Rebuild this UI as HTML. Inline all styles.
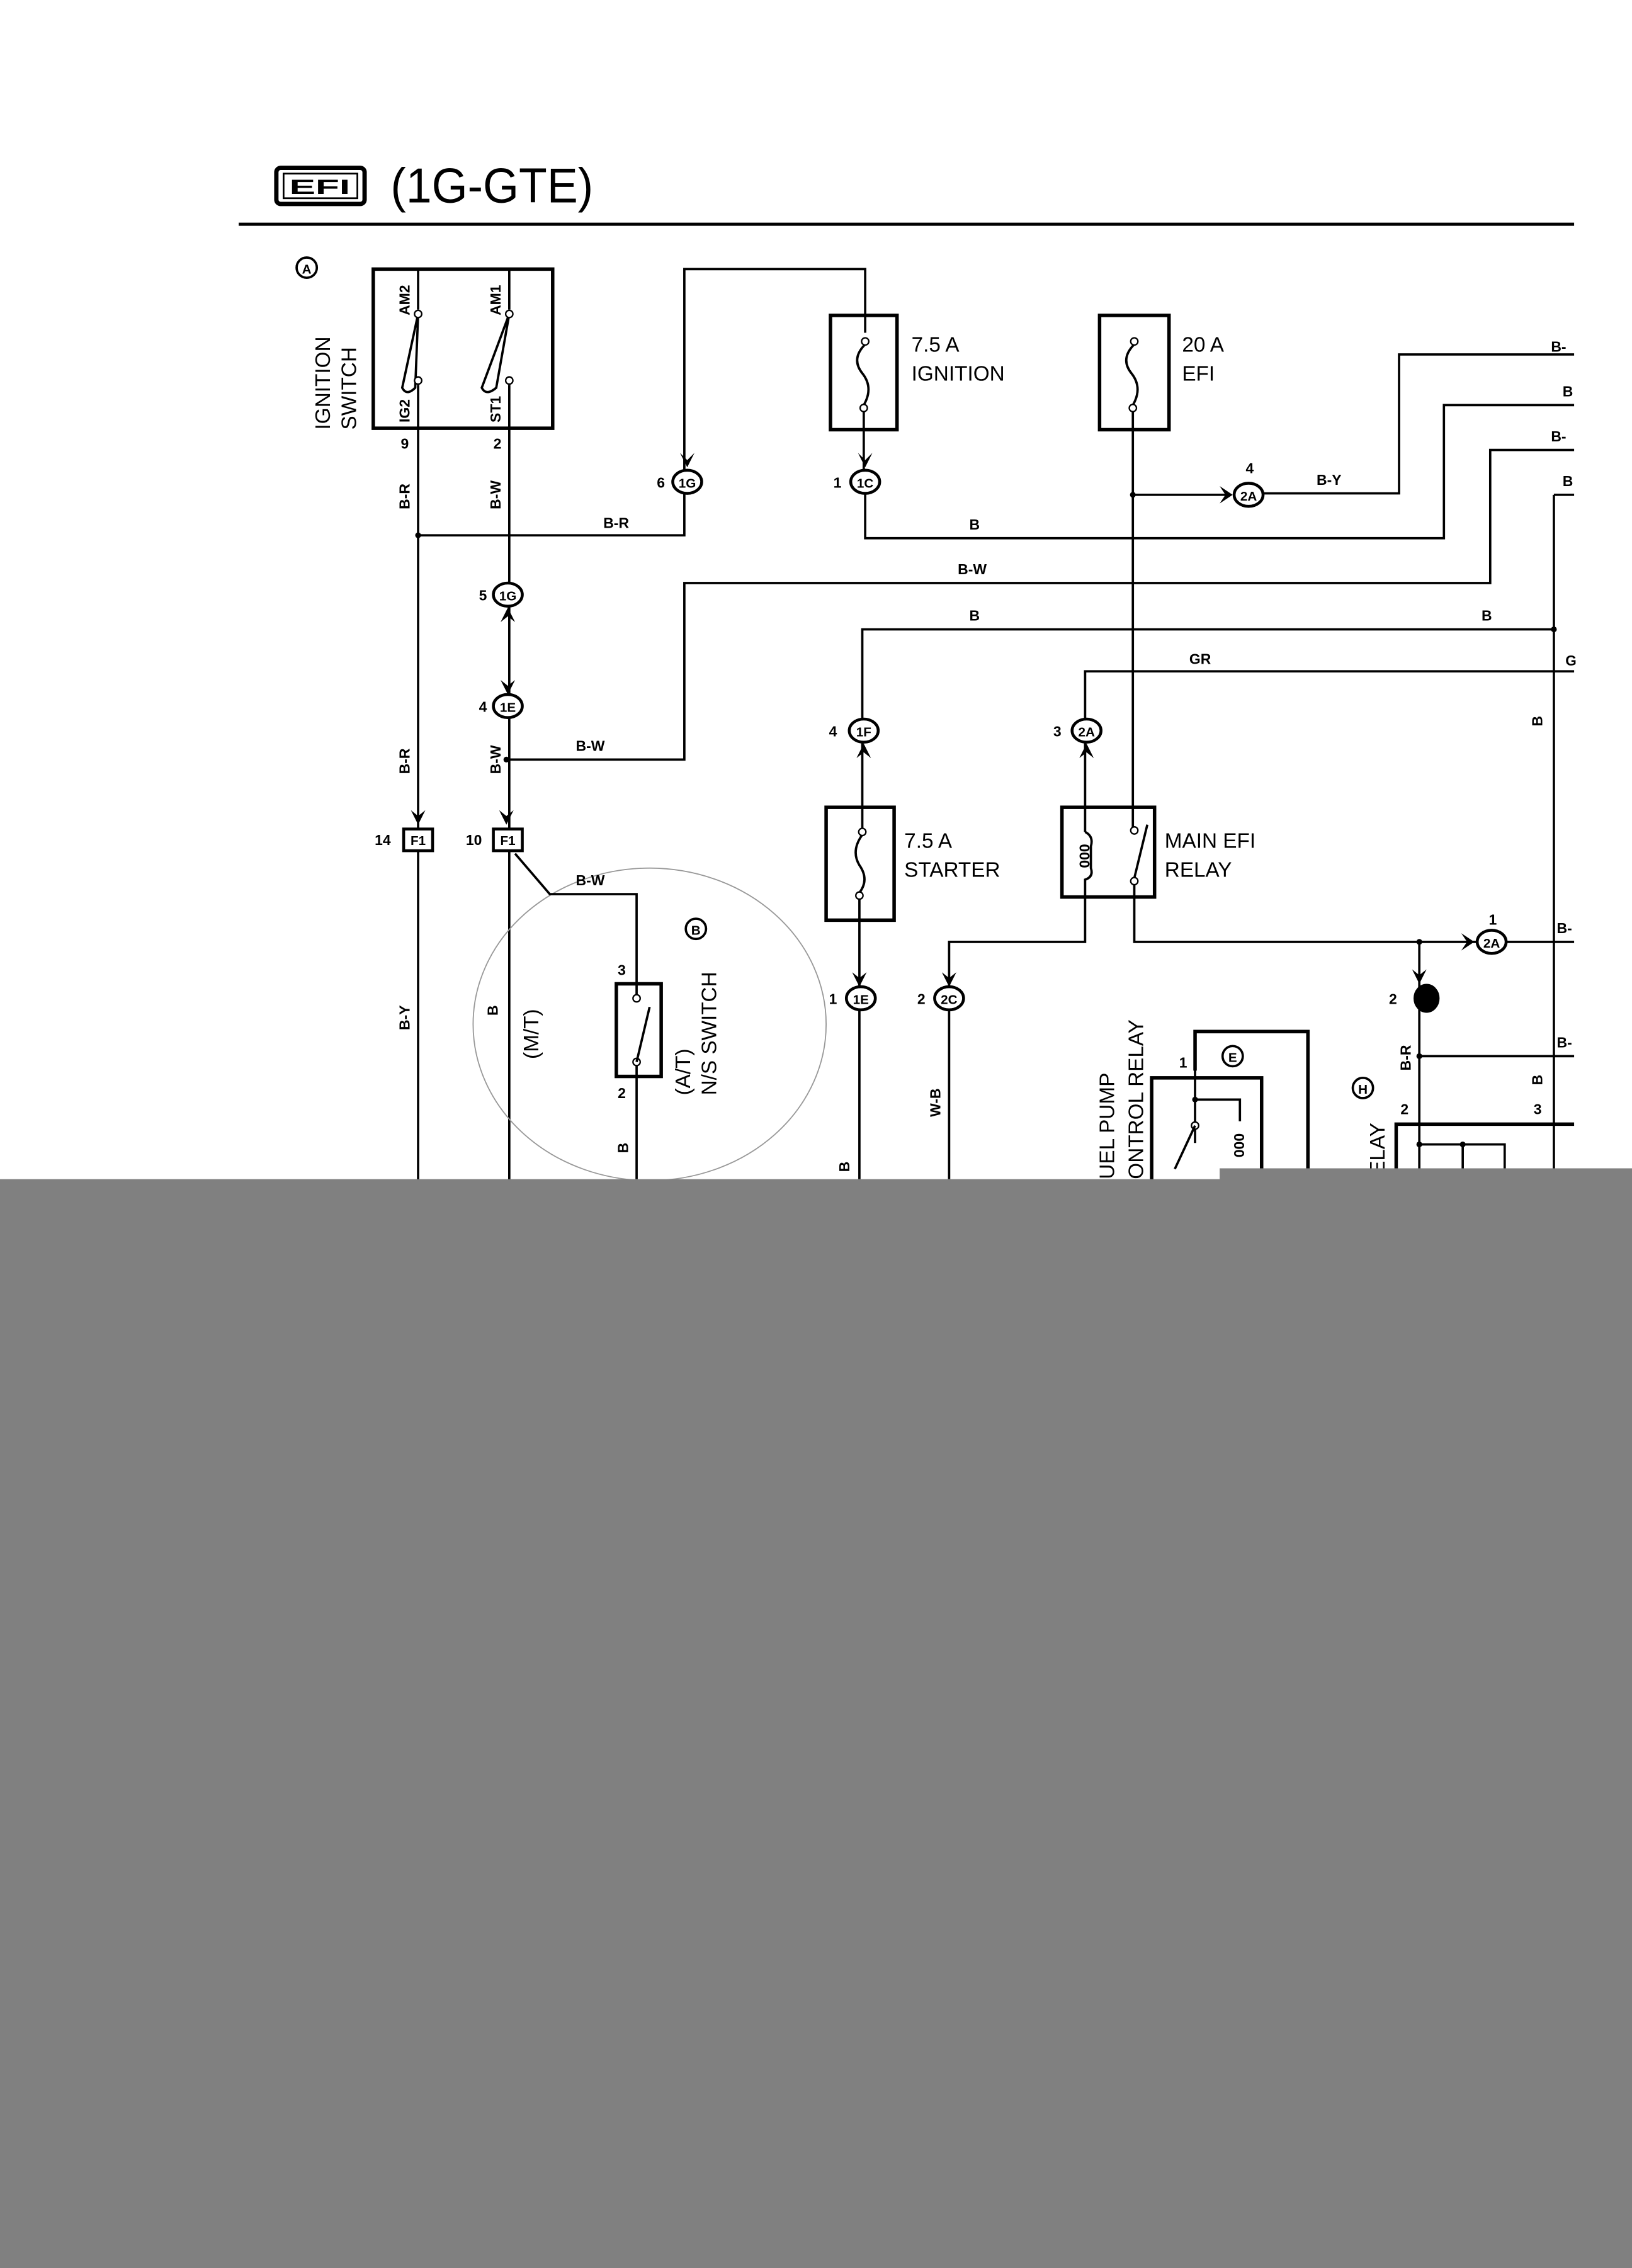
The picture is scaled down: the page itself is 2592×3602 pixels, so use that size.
<!DOCTYPE html>
<html><head><meta charset="utf-8"><style>
html,body{margin:0;padding:0;background:#fff}
svg{display:block}
.w{stroke:#000;stroke-width:1.6;fill:none}
.t{stroke:#000;stroke-width:2.4;fill:none}
.lb{font-family:"Liberation Sans",sans-serif;font-size:10px;font-weight:bold;fill:#000}
.tx{font-family:"Liberation Sans",sans-serif;font-size:14.5px;fill:#000}
.cn{font-family:"Liberation Sans",sans-serif;font-size:9px;font-weight:bold;fill:#000;text-anchor:middle}
</style></head><body>
<svg width="2592" height="3602" viewBox="0 0 1128 1567.6" preserveAspectRatio="none" xmlns="http://www.w3.org/2000/svg">
<rect x="0" y="0" width="1128" height="1568" fill="#fff"/>
<rect x="191" y="116" width="61" height="25" rx="3" fill="none" stroke="#000" stroke-width="3"/>
<rect x="196" y="120" width="51" height="17" fill="none" stroke="#000" stroke-width="1.2"/>
<text x="200" y="134" font-family="Liberation Sans" font-weight="bold" font-size="14" fill="#000" textLength="42" lengthAdjust="spacingAndGlyphs">EFI</text>
<text x="270" y="140" font-family="Liberation Sans" font-size="34" fill="#000" textLength="140" lengthAdjust="spacingAndGlyphs">(1G-GTE)</text>
<line x1="165" y1="155" x2="1088" y2="155" stroke="#000" stroke-width="2.2"/>

<circle cx="212" cy="185" r="7" class="w" stroke-width="1.2"/><text x="212" y="189" class="cn">A</text>
<rect x="258" y="186" width="124" height="110" class="t"/>
<text transform="translate(228,297) rotate(-90)" class="tx">IGNITION</text>
<text transform="translate(246,297) rotate(-90)" class="tx">SWITCH</text>
<path class="w" d="M289 186V214M352 186V214"/>
<path class="w" d="M289 217L278 268Q281 274 287 268Z M352 217L333 268Q336 274 343 268Z" stroke-width="1.4"/>
<circle cx="289" cy="217" r="2.5" fill="#fff" stroke="#000"/><circle cx="352" cy="217" r="2.5" fill="#fff" stroke="#000"/>
<circle cx="289" cy="263" r="2.5" fill="#fff" stroke="#000"/><circle cx="352" cy="263" r="2.5" fill="#fff" stroke="#000"/>
<text transform="translate(283,218) rotate(-90)" class="lb" font-size="9">AM2</text>
<text transform="translate(346,218) rotate(-90)" class="lb" font-size="9">AM1</text>
<text transform="translate(283,292) rotate(-90)" class="lb" font-size="9">IG2</text>
<text transform="translate(346,292) rotate(-90)" class="lb" font-size="9">ST1</text>
<text x="277" y="310" class="lb">9</text><text x="341" y="310" class="lb">2</text>
<path class="w" d="M289 266V1000M352 266V1000"/>
<text transform="translate(283,352) rotate(-90)" class="lb">B-R</text>
<text transform="translate(346,352) rotate(-90)" class="lb">B-W</text>
<circle cx="289" cy="370" r="2" fill="#000"/>
<path class="w" d="M289 370H473V186H598V230"/>
<text x="417" y="365" class="lb">B-R</text>
<ellipse cx="475" cy="333" rx="10" ry="8" fill="#fff" stroke="#000" stroke-width="2"/><text x="475" y="337" class="cn">1G</text><text x="454" y="337" class="lb">6</text>
<ellipse cx="598" cy="333" rx="10" ry="8" fill="#fff" stroke="#000" stroke-width="2"/><text x="598" y="337" class="cn">1C</text><text x="576" y="337" class="lb">1</text>
<path d="M470 313L475 323L480 313L475 318Z M593 313L598 323L603 313L598 318Z" fill="#000"/>
<rect x="574" y="218" width="46" height="79" class="t"/>
<path class="w" d="M598 238Q588 248 596 258Q604 268 597 280"/>
<circle cx="598" cy="236" r="2.5" fill="#fff" stroke="#000"/><circle cx="597" cy="282" r="2.5" fill="#fff" stroke="#000"/>
<path class="w" d="M597 284V325M598 341V372H998V280H1088"/>
<text x="630" y="243" class="tx">7.5 A</text><text x="630" y="263" class="tx">IGNITION</text>
<text x="670" y="366" class="lb">B</text>
<text x="1080" y="274" class="lb">B</text>
<rect x="760" y="218" width="48" height="79" class="t"/>
<path class="w" d="M784 238Q774 248 782 258Q790 268 783 280"/>
<circle cx="784" cy="236" r="2.5" fill="#fff" stroke="#000"/><circle cx="783" cy="282" r="2.5" fill="#fff" stroke="#000"/>
<text x="817" y="243" class="tx">20 A</text><text x="817" y="263" class="tx">EFI</text>
<path class="w" d="M783 284V572"/>
<circle cx="783" cy="342" r="2" fill="#000"/>
<path class="w" d="M783 342H848M872 341H967V245H1088"/>
<path d="M843 336L852 342L843 348L847 342Z" fill="#000"/>
<ellipse cx="863" cy="342" rx="10" ry="8" fill="#fff" stroke="#000" stroke-width="2"/><text x="863" y="346" class="cn">2A</text><text x="861" y="327" class="lb">4</text>
<text x="910" y="335" class="lb">B-Y</text>
<text x="1072" y="243" class="lb">B-</text>
<path class="w" d="M350 525H473V403H1030V311H1088"/>
<circle cx="350" cy="525" r="2" fill="#000"/>
<text x="662" y="397" class="lb">B-W</text><text x="398" y="519" class="lb">B-W</text>
<text x="1072" y="305" class="lb">B-</text>
<path class="w" d="M596 497V435H1074M1074 342V815M1074 342H1088"/>
<circle cx="1074" cy="435" r="2" fill="#000"/>
<text x="670" y="429" class="lb">B</text><text x="1024" y="429" class="lb">B</text>
<text x="1080" y="336" class="lb">B</text>
<text transform="translate(1066,502) rotate(-90)" class="lb">B</text>
<path class="w" d="M750 497V464H1088"/>
<text x="822" y="459" class="lb">GR</text><text x="1082" y="460" class="lb">G</text>
<ellipse cx="351" cy="411" rx="10" ry="8" fill="#fff" stroke="#000" stroke-width="2"/><text x="351" y="415" class="cn">1G</text><text x="331" y="415" class="lb">5</text>
<path d="M346 430L351 420L356 430L351 426Z" fill="#000"/>
<path d="M346 470L351 480L356 470L351 474Z" fill="#000"/>
<ellipse cx="351" cy="488" rx="10" ry="8" fill="#fff" stroke="#000" stroke-width="2"/><text x="351" y="492" class="cn">1E</text><text x="331" y="492" class="lb">4</text>
<text transform="translate(283,535) rotate(-90)" class="lb">B-R</text>
<text transform="translate(346,535) rotate(-90)" class="lb">B-W</text>
<path d="M284 560L289 570L294 560L289 564Z M345 560L350 570L355 560L350 564Z" fill="#000"/>
<rect x="279" y="573" width="20" height="15" fill="#fff" stroke="#000" stroke-width="2"/><text x="289" y="584" class="cn">F1</text><text x="259" y="584" class="lb">14</text>
<rect x="341" y="573" width="20" height="15" fill="#fff" stroke="#000" stroke-width="2"/><text x="351" y="584" class="cn">F1</text><text x="322" y="584" class="lb">10</text>
<text transform="translate(283,712) rotate(-90)" class="lb">B-Y</text>
<text transform="translate(344,702) rotate(-90)" class="lb">B</text>
<text transform="translate(372,732) rotate(-90)" class="tx" font-size="13">(M/T)</text>
<ellipse cx="449" cy="708" rx="122" ry="108" fill="none" stroke="#999" stroke-width="0.8"/>
<path class="w" d="M356 590L380 618H440V690M440 735V815"/>
<text x="398" y="612" class="lb">B-W</text>
<rect x="426" y="680" width="31" height="64" class="t"/>
<circle cx="440" cy="690" r="2.5" fill="#fff" stroke="#000"/><circle cx="440" cy="734" r="2.5" fill="#fff" stroke="#000"/>
<path class="w" d="M440 734L449 696"/>
<text x="427" y="674" class="lb">3</text><text x="427" y="759" class="lb">2</text>
<text transform="translate(434,797) rotate(-90)" class="lb">B</text>
<circle cx="481" cy="642" r="7" class="w" stroke-width="1.2"/><text x="481" y="646" class="cn">B</text>
<text transform="translate(477,757) rotate(-90)" class="tx" font-size="14">(A/T)</text>
<text transform="translate(495,757) rotate(-90)" class="tx" font-size="14">N/S SWITCH</text>
<ellipse cx="597" cy="505" rx="10" ry="8" fill="#fff" stroke="#000" stroke-width="2"/><text x="597" y="509" class="cn">1F</text><text x="573" y="509" class="lb">4</text>
<path d="M592 524L597 514L602 524L597 520Z" fill="#000"/>
<rect x="571" y="558" width="47" height="78" class="t"/>
<path class="w" d="M596 513V573M596 577Q588 588 594 598Q601 608 594 617M594 620V682M594 698V815"/>
<circle cx="596" cy="575" r="2.5" fill="#fff" stroke="#000"/><circle cx="594" cy="619" r="2.5" fill="#fff" stroke="#000"/>
<text x="625" y="586" class="tx">7.5 A</text><text x="625" y="606" class="tx">STARTER</text>
<path d="M589 672L594 682L599 672L594 676Z" fill="#000"/>
<ellipse cx="595" cy="690" rx="10" ry="8" fill="#fff" stroke="#000" stroke-width="2"/><text x="595" y="694" class="cn">1E</text><text x="573" y="694" class="lb">1</text>
<text transform="translate(587,810) rotate(-90)" class="lb">B</text>
<ellipse cx="751" cy="505" rx="10" ry="8" fill="#fff" stroke="#000" stroke-width="2"/><text x="751" y="509" class="cn">2A</text><text x="728" y="509" class="lb">3</text>
<path d="M746 524L751 514L756 524L751 520Z" fill="#000"/>
<rect x="734" y="558" width="64" height="62" class="t"/>
<path class="w" d="M750 513V575M750 575Q756 578 754 585V600Q756 606 750 608V651H656V682"/>
<text transform="translate(753,600) rotate(-90)" class="lb" font-size="9">000</text>
<circle cx="784" cy="574" r="2.5" fill="#fff" stroke="#000"/><circle cx="784" cy="609" r="2.5" fill="#fff" stroke="#000"/>
<path class="w" d="M784 607L793 570M784 611V651H1088"/>
<text x="805" y="586" class="tx">MAIN EFI</text><text x="805" y="606" class="tx">RELAY</text>
<path d="M651 672L656 682L661 672L656 676Z" fill="#000"/>
<ellipse cx="656" cy="690" rx="10" ry="8" fill="#fff" stroke="#000" stroke-width="2"/><text x="656" y="694" class="cn">2C</text><text x="634" y="694" class="lb">2</text>
<path class="w" d="M656 698V815"/>
<text transform="translate(650,772) rotate(-90)" class="lb">W-B</text>
<circle cx="981" cy="651" r="2" fill="#000"/>
<path d="M1010 645L1019 651L1010 657L1014 651Z" fill="#000"/>
<ellipse cx="1031" cy="651" rx="10" ry="8" fill="#fff" stroke="#000" stroke-width="2"/><text x="1031" y="655" class="cn">2A</text><text x="1029" y="639" class="lb">1</text>
<text x="1076" y="645" class="lb">B-</text>
<path class="w" d="M981 651V815M981 730H1088"/>
<path d="M976 670L981 680L986 670L981 674Z" fill="#000"/>
<ellipse cx="986" cy="690" rx="8" ry="9" fill="#000" stroke="#000" stroke-width="2"/><text x="960" y="694" class="lb">2</text>
<circle cx="981" cy="730" r="2" fill="#000"/>
<text transform="translate(975,740) rotate(-90)" class="lb">B-R</text>
<text x="1076" y="724" class="lb">B-</text>
<text transform="translate(1066,750) rotate(-90)" class="lb">B</text>
<path class="t" d="M826 740V713H904V815"/>
<rect x="796" y="745" width="76" height="80" class="t"/>
<circle cx="852" cy="730" r="7" class="w" stroke-width="1.2"/><text x="852" y="734" class="cn">E</text>
<text x="815" y="738" class="lb">1</text>
<path class="w" d="M826 713V790M826 760H857V775"/>
<circle cx="826" cy="760" r="2" fill="#000"/>
<circle cx="826" cy="778" r="2.5" fill="#fff" stroke="#000"/>
<path class="w" d="M826 778L812 808"/>
<text transform="translate(860,800) rotate(-90)" class="lb" font-size="9">000</text>
<text transform="translate(770,815) rotate(-90)" class="tx">UEL PUMP</text>
<text transform="translate(790,815) rotate(-90)" class="tx">ONTROL RELAY</text>
<circle cx="942" cy="752" r="7" class="w" stroke-width="1.2"/><text x="942" y="756" class="cn">H</text>
<text transform="translate(957,812) rotate(-90)" class="tx">ELAY</text>
<text x="968" y="770" class="lb">2</text><text x="1060" y="770" class="lb">3</text>
<path class="t" d="M965 815V777H1088"/>
<path class="w" d="M981 791H1040V815M1011 791V815"/>
<circle cx="981" cy="791" r="2" fill="#000"/><circle cx="1011" cy="791" r="2" fill="#000"/>
<rect x="1089" y="150" width="39" height="670" fill="#fff"/>
<path d="M0 815H843V807.5H1128V1568H0Z" fill="#808080"/>
</svg>
</body></html>
